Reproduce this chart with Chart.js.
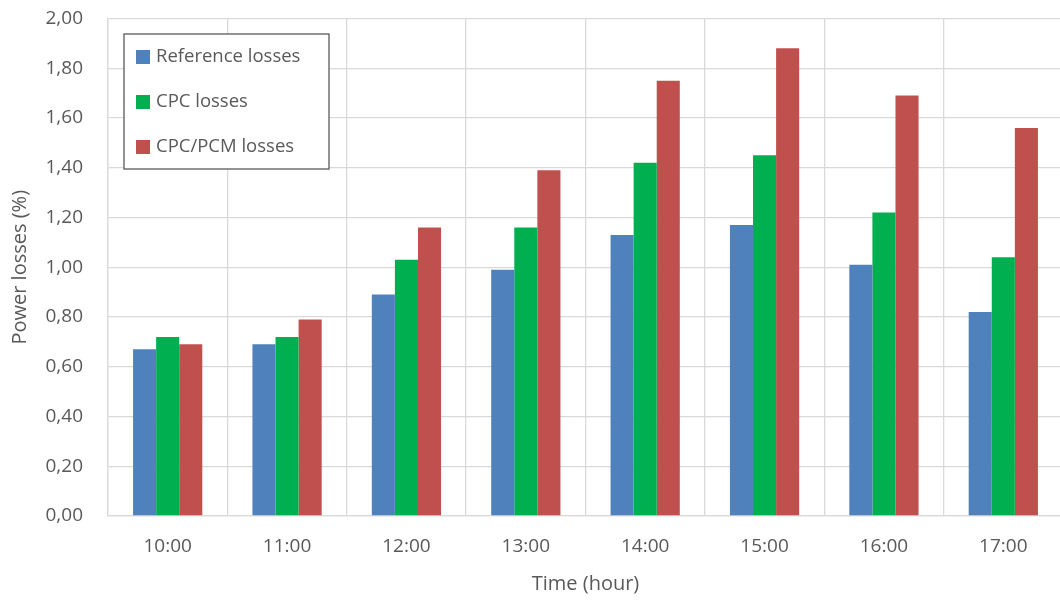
<!DOCTYPE html>
<html>
<head>
<meta charset="utf-8">
<script src="https://cdn.jsdelivr.net/npm/chart.js@4.4.1/dist/chart.umd.min.js"></script>
<style>
  html, body { margin: 0; padding: 0; background: #ffffff; overflow: hidden; }
  #wrap { position: relative; width: 1075px; height: 600px; }
</style>
</head>
<body>
<div id="wrap"><canvas id="c"></canvas></div>
<script>
const categories = ['10:00', '11:00', '12:00', '13:00', '14:00', '15:00', '16:00', '17:00'];
const referenceLosses = [0.67, 0.69, 0.89, 0.99, 1.13, 1.17, 1.01, 0.82];
const cpcLosses = [0.72, 0.72, 1.03, 1.16, 1.42, 1.45, 1.22, 1.04];
const cpcPcmLosses = [0.69, 0.79, 1.16, 1.39, 1.75, 1.88, 1.69, 1.56];
const seriesNames = ['Reference losses', 'CPC losses', 'CPC/PCM losses'];
const yTickLabels = ['0,00', '0,20', '0,40', '0,60', '0,80', '1,00', '1,20', '1,40', '1,60', '1,80', '2,00'];

const colors = ['#4F81BD', '#00B050', '#C0504D'];
const FONT = '"Open Sans", sans-serif';
const TXT = '#595959';

const insideLegend = {
  id: 'insideLegend',
  afterDraw(chart) {
    const ctx = chart.ctx;
    const x0 = 124, y0 = 34, w = 205, h = 135;
    ctx.save();
    ctx.fillStyle = '#ffffff';
    ctx.fillRect(x0, y0, w, h);
    ctx.strokeStyle = '#595959';
    ctx.lineWidth = 1.3;
    ctx.strokeRect(x0, y0, w, h);
    ctx.font = '18.5px ' + FONT;
    ctx.textBaseline = 'middle';
    chart.data.datasets.forEach((ds, i) => {
      const cy = y0 + 23 + i * 45;
      ctx.fillStyle = ds.backgroundColor;
      ctx.fillRect(x0 + 12, cy - 7, 14, 14);
      ctx.fillStyle = TXT;
      ctx.fillText(ds.label, x0 + 32, cy);
    });
    ctx.restore();
  }
};

new Chart(document.getElementById('c'), {
  type: 'bar',
  data: {
    labels: categories,
    datasets: [
      { label: seriesNames[0], data: referenceLosses, backgroundColor: colors[0] },
      { label: seriesNames[1], data: cpcLosses, backgroundColor: colors[1] },
      { label: seriesNames[2], data: cpcPcmLosses, backgroundColor: colors[2] }
    ]
  },
  options: {
    responsive: true,
    maintainAspectRatio: false,
    animation: false,
    layout: { padding: { top: 18.5, right: 12, left: 0, bottom: 0 } },
    datasets: { bar: { categoryPercentage: 0.58, barPercentage: 1.0, borderWidth: 0 } },
    plugins: { legend: { display: false }, tooltip: { enabled: false } },
    scales: {
      x: {
        grid: { color: '#d9d9d9', lineWidth: 1.3, drawTicks: false, offset: true },
        border: { color: '#d9d9d9', width: 1.3 },
        ticks: { color: TXT, font: { family: FONT, size: 19 }, padding: 19 },
        title: { display: true, text: 'Time (hour)', color: TXT, font: { family: FONT, size: 20 }, padding: { top: 3 } },
        afterFit(s) { s.height = 84; s.paddingLeft = 0; s.paddingRight = 0; }
      },
      y: {
        min: 0, max: 2,
        ticks: {
          stepSize: 0.2, color: TXT, font: { family: FONT, size: 19 }, padding: 25,
          callback: (v, i) => yTickLabels[i]
        },
        grid: { color: '#d9d9d9', lineWidth: 1.3, drawTicks: false },
        border: { color: '#d9d9d9', width: 1.3 },
        title: { display: true, text: 'Power losses (%)', color: TXT, font: { family: FONT, size: 20 }, padding: { top: 8, bottom: 0 } },
        afterFit(s) { s.width = 108; s.paddingTop = 0; s.paddingBottom = 0; }
      }
    }
  },
  plugins: [insideLegend]
});
</script>
</body>
</html>
